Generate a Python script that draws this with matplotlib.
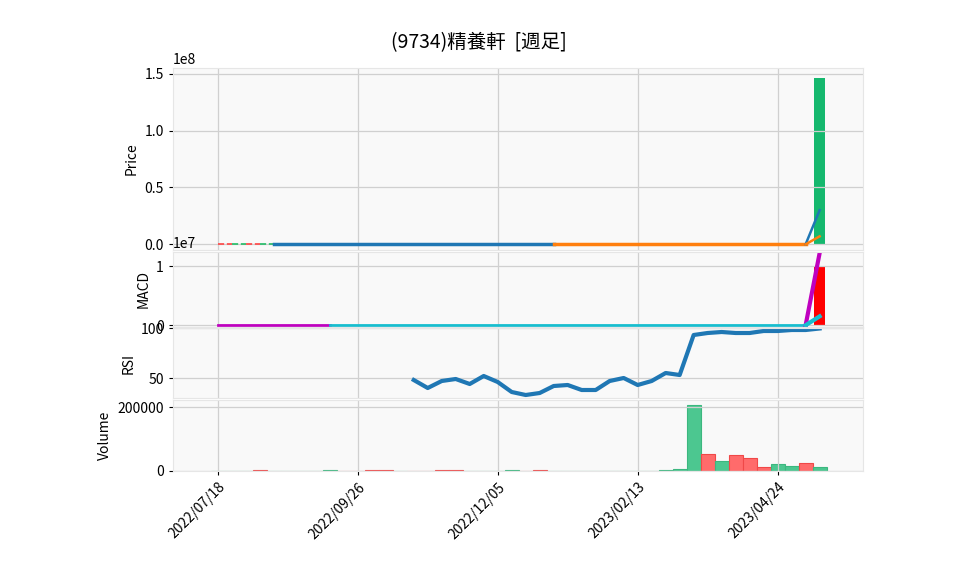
import numpy as np
import pandas as pd
import matplotlib.pyplot as plt

plt.rcParams['font.family'] = ['Noto Sans CJK JP', 'DejaVu Sans']

TITLE = '(9734)精養軒  [週足]'
dates = pd.date_range('2022-07-18', periods=44, freq='7D')
tick_idx = [0, 10, 20, 30, 40]

# 価格パネル
price_bar = 1.46e8
price_blue = [0.0] * 21           # index 4..24
price_orange = [0.0] * 19         # index 24..42
last_blue, last_orange = 0.30e8, 0.07e8

# MACD
macd_line = [0.0] * 9             # index 0..8
signal_line = [0.0] * 35          # index 8..42
macd_last, signal_last, hist_last = 1.22e7, 0.15e7, 1.0e7

# RSI (index 14..43)
rsi = [48, 40, 47, 49, 44, 52, 46, 36, 33, 35, 42, 43, 38, 38, 47, 50, 43, 47, 55, 53,
       93, 95, 96, 95, 95, 97, 97, 98, 98, 99.5]

# 出来高
volume = [0, 800, 600, 3000, 500, 400, 400, 600, 2500, 1500, 1200, 2000, 1800, 300,
          500, 1500, 2200, 1800, 300, 500, 400, 2000, 1500, 1800, 1500, 1200, 800, 500,
          400, 300, 400, 600, 3000, 6000, 205000, 54000, 32000, 50000, 42000, 13000,
          22000, 16000, 25000, 12000]
vol_up = [True, True, True, False, True, True, True, True, True, False, False, False, False, True,
          False, False, False, False, True, True, True, True, False, False, True, True, True, True,
          True, True, True, True, True, True, True, False, True, False, False, False,
          True, True, False, True]

fig = plt.figure(figsize=(9.58, 5.75), dpi=100)
L, W = 173 / 958, 690 / 958
def panel(top, bot):
    return fig.add_axes([L, 1 - bot / 575, W, (bot - top) / 575])
ax1 = panel(68, 250)
ax2 = panel(252, 327)
ax3 = panel(328, 398)
ax4 = panel(400, 471)
axes = [ax1, ax2, ax3, ax4]
for ax in axes:
    ax.set_facecolor('#f9f9f9')
    ax.grid(True, color='#d0d0d0', linewidth=0.9)
    for s in ax.spines.values():
        s.set_color('#e6e6e6')
    ax.set_xlim(-3.2, 46.1)
    ax.set_xticks(tick_idx)
    ax.tick_params(labelsize=10, length=3)
    if ax is not ax4:
        ax.tick_params(labelbottom=False, bottom=False)

# 価格
x = np.arange(len(dates))
for i in range(4):
    ax1.plot([i, i + 1], [0, 0], color='#ff4444' if i % 2 == 0 else '#22bb66', lw=1.2, ls='--')
ax1.plot(x[4:25], price_blue, color='#1f77b4', lw=2.5)
ax1.plot(x[24:43], price_orange, color='#ff7f0e', lw=2.5)
ax1.plot([42, 43], [0, last_blue], color='#1f77b4', lw=1.8)
ax1.plot([42, 43], [0, last_orange], color='#ff7f0e', lw=1.8)
ax1.bar(43, price_bar, width=0.8, color='#15b86e')
ax1.set_ylim(-0.05e8, 1.55e8)
ax1.set_yticks([0, 0.5e8, 1.0e8, 1.5e8])
ax1.set_ylabel('Price', fontsize=10)

# MACD
ax2.plot(x[0:9], macd_line, color='#bf00bf', lw=2)
ax2.plot(x[8:43], signal_line, color='#17becf', lw=2)
ax2.bar(43, hist_last, width=0.8, color='red')
ax2.plot([42, 43], [0, macd_last], color='#bf00bf', lw=3)
ax2.plot([42, 43], [0, signal_last], color='#17becf', lw=3)
ax2.set_ylim(-0.03e7, 1.24e7)
ax2.set_yticks([0, 1e7])
ax2.set_ylabel('MACD', fontsize=10)

# RSI
ax3.plot(x[14:], rsi, color='#1f77b4', lw=3)
ax3.set_ylim(30, 100)
ax3.set_yticks([50, 100])
ax3.set_ylabel('RSI', fontsize=10)

# 出来高
colors = ['#4cc790' if u else '#ff6b6b' for u in vol_up]
edges = ['#3cb77f' if u else '#f04848' for u in vol_up]
ax4.bar(x, volume, width=1.0, color=colors, edgecolor=edges, linewidth=0.8)
ax4.set_ylim(0, 222000)
ax4.set_yticks([0, 200000])
ax4.set_ylabel('Volume', fontsize=10)
ax4.set_xticklabels([d.strftime('%Y/%m/%d') for d in dates[tick_idx]], rotation=45,
                    ha='right', rotation_mode='anchor', fontsize=10)

fig.suptitle(TITLE, y=0.945, fontsize=14)
fig.savefig('out.png', dpi=100)
